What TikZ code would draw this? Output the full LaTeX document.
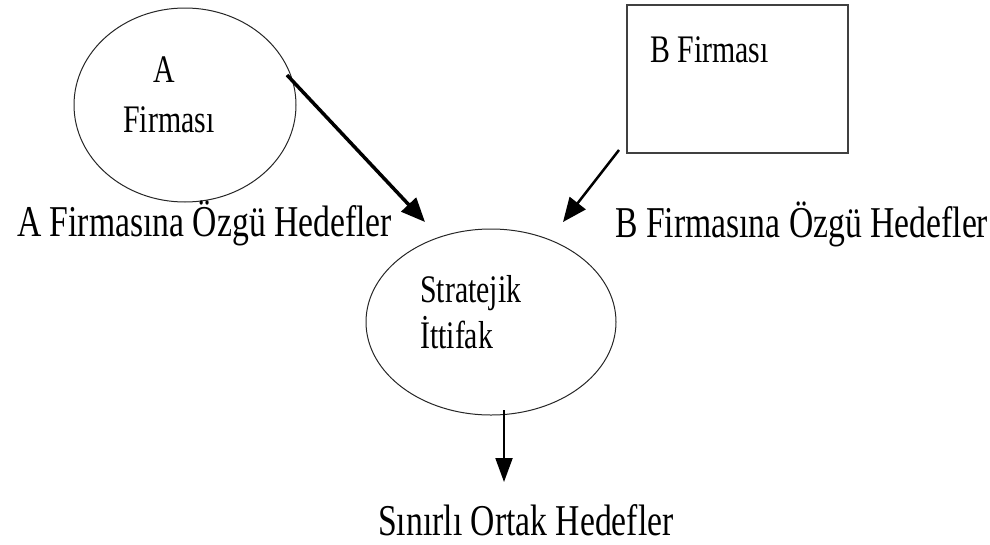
\documentclass[tikz,border=0pt]{standalone}
\usepackage{fontspec}
\setmainfont{Liberation Serif}
\usepackage{graphicx}
\usetikzlibrary{shapes.geometric,arrows.meta}
\newcommand{\nar}[1]{\scalebox{0.765}[1]{#1}}
\tikzset{
  big/.style={anchor=base west,inner sep=0pt,font=\fontsize{44}{50}\selectfont},
  small/.style={anchor=base west,inner sep=0pt,font=\fontsize{39}{44}\selectfont},
  oval/.style={ellipse,draw=black!85,line width=1pt,inner sep=0pt},
  conn/.style={line width=#1,-{Triangle[length=24pt,width=20pt]}},
}
\begin{document}
\begin{tikzpicture}[x=1pt,y=-1pt]
\useasboundingbox (0,0) rectangle (990,544);
% shapes
\node[oval,minimum width=222pt,minimum height=194pt] (A) at (185,105) {};
\node[draw=black!75,line width=1.3pt,minimum width=221pt,minimum height=148pt,inner sep=0pt] (B) at (737.5,79) {};
\node[oval,minimum width=250pt,minimum height=186pt] (S) at (491,322) {};
% texts
\node[small] (tA) at (153,82) {\nar{A}};
\node[small] (tAF) at (123,132) {\nar{Firması}};
\node[small] (tB) at (650,62) {\nar{B Firması}};
\node[small] (tS1) at (420,302) {\nar{Stratejik}};
\node[small] (tS2) at (420,348) {\nar{İttifak}};
\node[big] (hA) at (17,236) {\nar{A Firmasına Özgü Hedefler}};
\node[big] (hB) at (615,237) {\nar{B Firmasına Özgü Hedefler}};
\node[big] (hO) at (378,535) {\nar{Sınırlı Ortak Hedefler}};
% connector ends
\coordinate (a0) at (287,75);
\coordinate (a1) at (425,222);
\coordinate (b0) at (619,150);
\coordinate (b1) at (563,222);
\coordinate (c0) at (504,410);
\coordinate (c1) at (504,482);
\draw[conn=3.5pt] (a0) -- (a1);
\draw[conn=2.5pt] (b0) -- (b1);
\draw[line width=2pt,-{Triangle[length=24pt,width=17pt]}] (c0) -- (c1);
\end{tikzpicture}
\end{document}
